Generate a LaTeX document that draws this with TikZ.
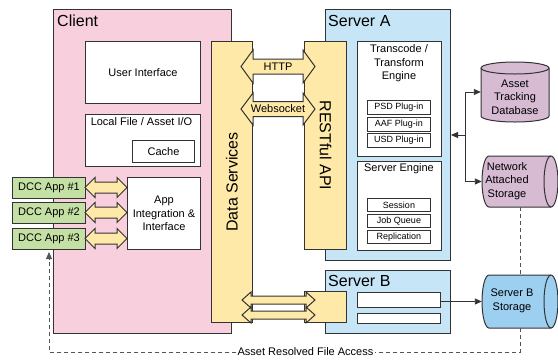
\documentclass[tikz,border=0pt]{standalone}
\usepackage{fontspec}
\setmainfont{Liberation Sans}
\usetikzlibrary{arrows.meta,calc}

\definecolor{linec}{HTML}{333333}
\definecolor{pinkc}{HTML}{F8CFDC}
\definecolor{yelc}{HTML}{FFE9A8}
\definecolor{bluec}{HTML}{C6E5F7}
\definecolor{greenc}{HTML}{C5E0A5}
\definecolor{purpc}{HTML}{D6BBD3}
\definecolor{stblue}{HTML}{9DD0F0}
\definecolor{dashc}{HTML}{555555}

\tikzset{
  bord/.style={draw=linec, line width=1pt},
  area/.style={bord, inner sep=0pt, anchor=north west},
  wbox/.style={area, fill=white, align=center, font=\fontsize{11}{13.5}\selectfont},
  pbox/.style={area, fill=white, font=\fontsize{9}{11}\selectfont},
  lbl/.style={inner sep=0pt, align=center, font=\fontsize{11}{13.5}\selectfont},
  biglbl/.style={inner sep=0pt, font=\fontsize{16}{19}\selectfont},
  ttl/.style={inner sep=0pt, anchor=base west, font=\fontsize{16}{19}\selectfont},
  conn/.style={draw=linec, line width=0.9pt},
  arrowend/.style={-{Triangle[length=7pt,width=6pt]}},
  fat/.style={bord, fill=yelc, line join=miter},
  dashline/.style={draw=dashc, line width=1pt, dash pattern=on 4pt off 3pt},
}

% fat two-headed arrow: x1, x2, y centre, head half-height, shaft half-height, head length
\newcommand\fatarrow[6]{%
  \draw[fat] (#1,#3) -- ({#1+#6},{#3-#4}) -- ({#1+#6},{#3-#5}) -- ({#2-#6},{#3-#5})
    -- ({#2-#6},{#3-#4}) -- (#2,#3) -- ({#2-#6},{#3+#4}) -- ({#2-#6},{#3+#5})
    -- ({#1+#6},{#3+#5}) -- ({#1+#6},{#3+#4}) -- cycle;}

% horizontal storage drum: left x, right x, top y, bottom y, end radius, fill
\newcommand\hdrum[6]{%
  \draw[bord, fill=#6] ({#1+#5},#3) -- ({#2-#5},#3)
    arc[start angle=90, end angle=-90, x radius=#5pt, y radius={(#4-#3)/2*1pt}]
    -- ({#1+#5},#4)
    arc[start angle=270, end angle=90, x radius=#5pt, y radius={(#4-#3)/2*1pt}] -- cycle;
  \draw[bord] ({#2-#5},#3)
    arc[start angle=90, end angle=270, x radius=#5pt, y radius={(#4-#3)/2*1pt}];}

\begin{document}
\begin{tikzpicture}[x=1pt,y=-1pt]
\useasboundingbox (0,0) rectangle (558,360);

% containers
\node[area, fill=pinkc, minimum width=178pt, minimum height=324pt] (client) at (53,9) {};
\node[ttl] (clientlbl) at (57,26) {Client};
\node[area, fill=bluec, minimum width=125pt, minimum height=251pt] (servera) at (325,9) {};
\node[ttl] (serveralbl) at (328,26) {Server A};
\node[area, fill=bluec, minimum width=125pt, minimum height=63pt] (serverb) at (325,270) {};
\node[ttl] (serverblbl) at (328,286) {Server B};

% client parts
\node[wbox, minimum width=115pt, minimum height=62pt] (ui) at (85,41) {User Interface};
\node[wbox, minimum width=115pt, minimum height=52pt] (lfio) at (85,114) {};
\node[lbl] (lfiolbl) at (141.5,122) {Local File / Asset I/O};
\node[wbox, minimum width=62pt, minimum height=22pt] (cache) at (132,140) {Cache};
\node[wbox, minimum width=73pt, minimum height=72pt] (appint) at (127,177) {App\\Integration \&\\Interface};

% DCC applications
\node[wbox, fill=greenc, minimum width=73pt, minimum height=21pt] (dcc1) at (12,177) {DCC App \#1};
\node[wbox, fill=greenc, minimum width=73pt, minimum height=21pt] (dcc2) at (12,202) {DCC App \#2};
\node[wbox, fill=greenc, minimum width=73pt, minimum height=21pt] (dcc3) at (12,228) {DCC App \#3};

% service columns
\node[area, fill=yelc, minimum width=41pt, minimum height=281pt] (ds) at (211,41) {};
\node[biglbl, rotate=90] (dslbl) at (ds.center) {Data Services};
\node[area, fill=yelc, minimum width=42pt, minimum height=208pt] (rest) at (304,41) {};
\node[biglbl, rotate=-90] (restlbl) at (rest.center) {RESTful API};
\node[area, fill=yelc, minimum width=42pt, minimum height=31pt] (restb) at (304,291) {};

% server A engines
\node[wbox, minimum width=84pt, minimum height=115pt] (transcode) at (357,41) {};
\node[lbl] (transcodelbl) at (399,63.5) {Transcode /\\Transform\\Engine};
\node[pbox, minimum width=63pt, minimum height=14pt] (psd) at (367,100) {PSD Plug-in};
\node[pbox, minimum width=63pt, minimum height=14pt] (aaf) at (367,117) {AAF Plug-in};
\node[pbox, minimum width=63pt, minimum height=14pt] (usd) at (367,133) {USD Plug-in};
\node[wbox, minimum width=84pt, minimum height=89pt] (sengine) at (357,161) {};
\node[lbl] (senginelbl) at (399,168.5) {Server Engine};
\node[pbox, minimum width=63pt, minimum height=13pt] (session) at (367,198) {Session};
\node[pbox, minimum width=63pt, minimum height=13pt] (jobq) at (367,214) {Job Queue};
\node[pbox, minimum width=63pt, minimum height=13pt] (repl) at (367,230) {Replication};

% server B slots
\node[area, fill=white, minimum width=83pt, minimum height=15pt] (bar1) at (357,292) {};
\node[area, fill=white, minimum width=83pt, minimum height=10pt] (bar2) at (357,313) {};

% storage
\node[inner sep=0pt, minimum width=68pt, minimum height=60pt] (atd) at (515,92) {};
\draw[bord, fill=purpc] (481,68) -- (481,116)
  arc[start angle=180, end angle=360, x radius=34pt, y radius=6pt] -- (549,68)
  arc[start angle=0, end angle=180, x radius=34pt, y radius=6pt] -- cycle;
\draw[bord] (481,68) arc[start angle=180, end angle=360, x radius=34pt, y radius=6pt];
\node[lbl] (atdlbl) at (515,97) {Asset\\Tracking\\Database};

\node[inner sep=0pt, minimum width=76pt, minimum height=51pt] (nas) at (520,181.5) {};
\hdrum{482}{558}{156}{207}{7}{purpc}
\node[lbl] (naslbl) at (507,181) {Network\\Attached\\Storage};

\node[inner sep=0pt, minimum width=76pt, minimum height=53pt] (sbs) at (520,301.5) {};
\hdrum{482}{558}{275}{328}{7}{stblue}
\node[lbl] (sbslbl) at (512,301) {Server B\\Storage};

% protocol arrows
\fatarrow{85}{127}{187.5}{10}{5.5}{10}
\fatarrow{85}{127}{212.5}{10}{5.5}{10}
\fatarrow{85}{127}{238.5}{10}{5.5}{10}
\fatarrow{241}{315}{66.5}{16.5}{7.5}{12}
\node[lbl] (http) at (278,66.5) {HTTP};
\fatarrow{241}{315}{109}{16}{7.5}{12}
\node[lbl] (websocket) at (278,108.5) {Websocket};
\fatarrow{242}{315}{300}{8}{4}{9}
\fatarrow{242}{315}{315}{8}{4}{9}

% connectors
\coordinate (jt) at (465,92);
\coordinate (jm) at (465,135);
\coordinate (jb) at (465,181.5);
\draw[conn] (jt) -- (jb);
\draw[conn, arrowend] (jt) -- (atd.west |- jt);
\draw[conn, arrowend] (jb) -- (nas.west |- jb);
\draw[conn, arrowend] (jm) -- (servera.east |- jm);
\draw[conn, arrowend] (bar1.east |- sbs.west) -- (sbs.west);

% resolved file access path
\node[lbl, inner sep=1pt] (arlbl) at (305.5,352) {Asset Resolved File Access};
\draw[dashline] (nas.south) -- (sbs.north);
\draw[dashline] (sbs.south) |- (arlbl.east);
\draw[dashline, arrowend, shorten >=2pt] (arlbl.west) -| (dcc3.south);
\end{tikzpicture}
\end{document}
